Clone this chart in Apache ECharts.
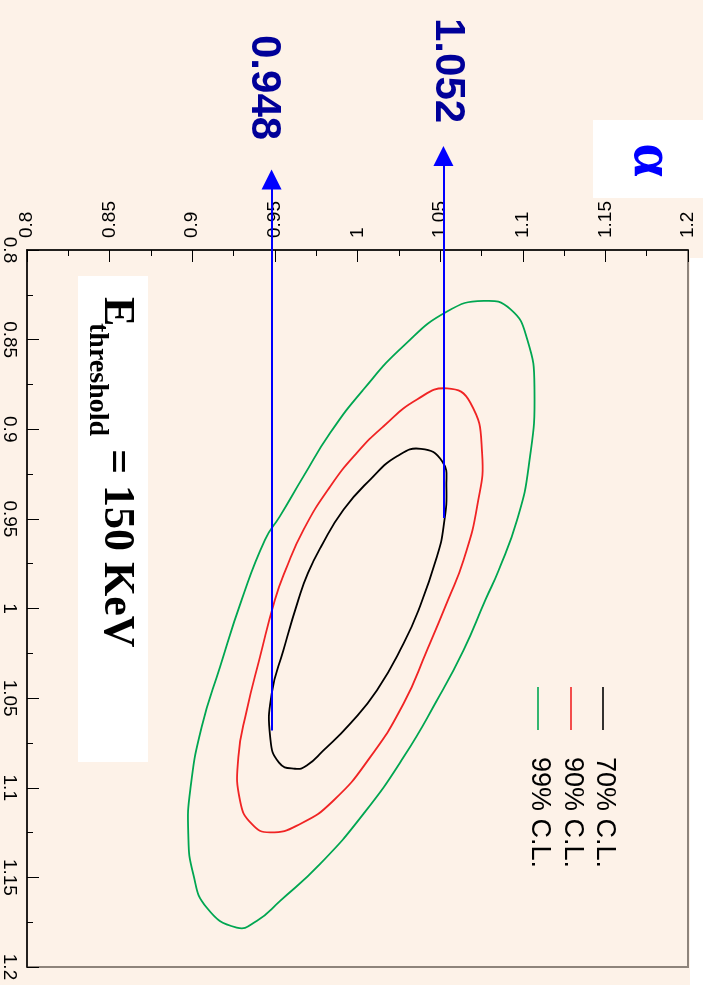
<!DOCTYPE html>
<html>
<head>
<meta charset="utf-8">
<script src="https://cdn.jsdelivr.net/npm/echarts@6/dist/echarts.min.js"></script>
<style>
  html, body { margin: 0; padding: 0; background: #fdf2e8; }
  #chart { width: 703px; height: 985px; }
</style>
</head>
<body>
<div id="chart"></div>
<script>
// Tick labels for both axes
const xTickLabels = ['0.8', '0.85', '0.9', '0.95', '1', '1.05', '1.1', '1.15', '1.2'];
const yTickLabels = ['0.8', '0.85', '0.9', '0.95', '1', '1.05', '1.1', '1.15', '1.2'];

// Confidence-level contours: [alpha, beta] points around each closed curve
const contour70 = [[1.0384,0.9109],[1.0512,0.9179],[1.0538,0.9319],[1.0521,0.9542],[1.0481,0.9710],[1.0370,1.0008],[1.0279,1.0195],[1.0118,1.0456],[0.9956,1.0642],[0.9794,1.0792],[0.9693,1.0876],[0.9622,1.0894],[0.9525,1.0860],[0.9472,1.0720],[0.9481,1.0474],[0.9552,1.0232],[0.9642,0.9952],[0.9700,0.9803],[0.9780,0.9654],[0.9915,0.9449],[1.0077,0.9281],[1.0239,0.9151]];
const contour90 = [[1.0542,0.8772],[1.0683,0.8852],[1.0754,0.9132],[1.0724,0.9430],[1.0642,0.9729],[1.0548,0.9952],[1.0421,1.0232],[1.0279,1.0530],[1.0077,1.0829],[0.9855,1.1071],[0.9653,1.1202],[0.9471,1.1249],[0.9360,1.1202],[0.9289,1.1071],[0.9279,1.0829],[0.9330,1.0568],[0.9410,1.0270],[0.9500,0.9952],[0.9565,0.9785],[0.9673,0.9561],[0.9835,0.9319],[0.9996,0.9132],[1.0158,0.8983],[1.0360,0.8834]];
const contour99 = [[1.0764,0.8284],[1.0925,0.8330],[1.1027,0.8498],[1.1071,0.8778],[1.1036,0.9207],[1.0966,0.9505],[1.0855,0.9785],[1.0774,0.9952],[1.0642,1.0232],[1.0481,1.0512],[1.0279,1.0829],[1.0036,1.1146],[0.9774,1.1425],[0.9532,1.1631],[0.9390,1.1743],[0.9269,1.1780],[0.9087,1.1668],[0.9006,1.1481],[0.8976,1.1258],[0.8990,1.0997],[0.9057,1.0661],[0.9168,1.0326],[0.9299,0.9952],[0.9440,0.9617],[0.9530,0.9486],[0.9673,0.9263],[0.9835,0.9020],[1.0036,0.8778],[1.0279,0.8535],[1.0542,0.8343]];

const clNames = ['70% C.L.', '90% C.L.', '99% C.L.'];
const clColors = ['#000000', '#f02424', '#00a651'];

// Limits on alpha marked by arrows: position, start (beta) and end (beta, above the frame)
const limitX = [0.948, 1.052];
const limitFrom = [1.068, 0.9495];
const limitTo = [0.7606, 0.7476];

const chart = echarts.init(document.getElementById('chart'), null, { renderer: 'canvas' });

const axisFont = { fontFamily: 'Liberation Sans', fontSize: 19, color: '#000' };

// Each contour is a closed smooth curve through its points, placed via the axes' scales
const contourSeries = [contour70, contour90, contour99].map((pts, i) => ({
  type: 'custom',
  name: clNames[i],
  data: pts,
  encode: { x: 0, y: 1 },
  z: 3,
  renderItem: (params, api) => {
    if (params.dataIndex !== 0) return null;
    const points = pts.map(p => api.coord(p));
    return {
      type: 'polygon',
      shape: { points: points, smooth: 0.5 },
      style: { fill: 'none', stroke: clColors[i], lineWidth: 1.8 }
    };
  }
}));

const legendGraphics = [];
const legendX = [603, 571, 538];
clNames.forEach((name, i) => {
  legendGraphics.push({
    type: 'line',
    shape: { x1: legendX[i], y1: 687, x2: legendX[i], y2: 730 },
    style: { stroke: clColors[i], lineWidth: 1.6 }
  });
  legendGraphics.push({
    type: 'text',
    x: legendX[i] + 1, y: 757,
    rotation: -Math.PI / 2,
    style: {
      text: name, fill: '#000', fontFamily: 'Liberation Sans', fontSize: 27,
      align: 'left', verticalAlign: 'middle'
    }
  });
});

const option = {
  backgroundColor: '#fdf2e8',
  animation: false,
  grid: {
    left: 26, top: 250, width: 662, height: 717,
    show: true, borderColor: '#8e847b', borderWidth: 2, backgroundColor: 'transparent'
  },
  xAxis: {
    type: 'value', position: 'top', min: 0.8, max: 1.2, interval: 0.05,
    axisLine: { show: true, onZero: false, lineStyle: { color: '#000', width: 1.5 } },
    axisTick: { show: true, inside: true, length: 12, lineStyle: { color: '#000', width: 1 } },
    minorTick: { show: true, splitNumber: 2, length: 6, lineStyle: { color: '#000', width: 1 } },
    splitLine: { show: false },
    axisLabel: Object.assign({
      rotate: -90, margin: 12,
      formatter: (v) => xTickLabels[Math.round((v - 0.8) / 0.05)]
    }, axisFont)
  },
  yAxis: {
    type: 'value', position: 'left', inverse: true, min: 0.8, max: 1.2, interval: 0.05,
    axisLine: { show: true, onZero: false, lineStyle: { color: '#000', width: 1.5 } },
    axisTick: { show: true, inside: true, length: 12, lineStyle: { color: '#000', width: 1 } },
    minorTick: { show: true, splitNumber: 2, length: 6, lineStyle: { color: '#000', width: 1 } },
    splitLine: { show: false },
    axisLabel: Object.assign({
      rotate: -90, margin: 8,
      formatter: (v) => yTickLabels[Math.round((v - 0.8) / 0.05)]
    }, axisFont)
  },
  series: contourSeries.concat([{
    type: 'lines',
    coordinateSystem: 'cartesian2d',
    clip: false,
    symbol: ['none', 'triangle'],
    symbolSize: 20,
    lineStyle: { color: '#0000ff', width: 2, opacity: 1, curveness: 0 },
    data: limitX.map((x, i) => ({ coords: [[x, limitFrom[i]], [x, limitTo[i]]] })),
    z: 5
  }]),
  graphic: {
    elements: [
      // white strip at the right edge of the canvas
      { type: 'rect', shape: { x: 690, y: 258, width: 13, height: 727 }, style: { fill: '#ffffff' }, z: 0 },
      // alpha parameter label
      { type: 'rect', shape: { x: 593, y: 120, width: 110, height: 78 }, style: { fill: '#ffffff' } },
      {
        type: 'text', x: 650, y: 160, rotation: -Math.PI / 2,
        style: { text: 'α', fill: '#0000ff', fontFamily: 'Liberation Serif', fontWeight: 'bold', fontSize: 60, align: 'center', verticalAlign: 'middle' }
      },
      // limit values
      {
        type: 'text', x: 264, y: 35, rotation: -Math.PI / 2,
        style: { text: String(limitX[0]), fill: '#000099', fontFamily: 'Liberation Sans', fontWeight: 'bold', fontSize: 42, align: 'left', verticalAlign: 'middle' }
      },
      {
        type: 'text', x: 448, y: 18, rotation: -Math.PI / 2,
        style: { text: String(limitX[1]), fill: '#000099', fontFamily: 'Liberation Sans', fontWeight: 'bold', fontSize: 42, align: 'left', verticalAlign: 'middle' }
      },
      // threshold annotation
      { type: 'rect', shape: { x: 78, y: 276, width: 70, height: 486 }, style: { fill: '#ffffff' } },
      {
        type: 'text', x: 116, y: 297, rotation: -Math.PI / 2,
        style: { text: 'E', fill: '#000', fontFamily: 'Liberation Serif', fontWeight: 'bold', fontSize: 44, align: 'left', verticalAlign: 'middle' }
      },
      {
        type: 'text', x: 97, y: 323, rotation: -Math.PI / 2,
        style: { text: 'threshold', fill: '#000', fontFamily: 'Liberation Serif', fontWeight: 'bold', fontSize: 28, align: 'left', verticalAlign: 'middle' }
      },
      {
        type: 'text', x: 116, y: 449, rotation: -Math.PI / 2,
        style: { text: '= 150 KeV', fill: '#000', fontFamily: 'Liberation Serif', fontWeight: 'bold', fontSize: 44, align: 'left', verticalAlign: 'middle' }
      }
    ].concat(legendGraphics)
  }
};

chart.setOption(option);
</script>
</body>
</html>
